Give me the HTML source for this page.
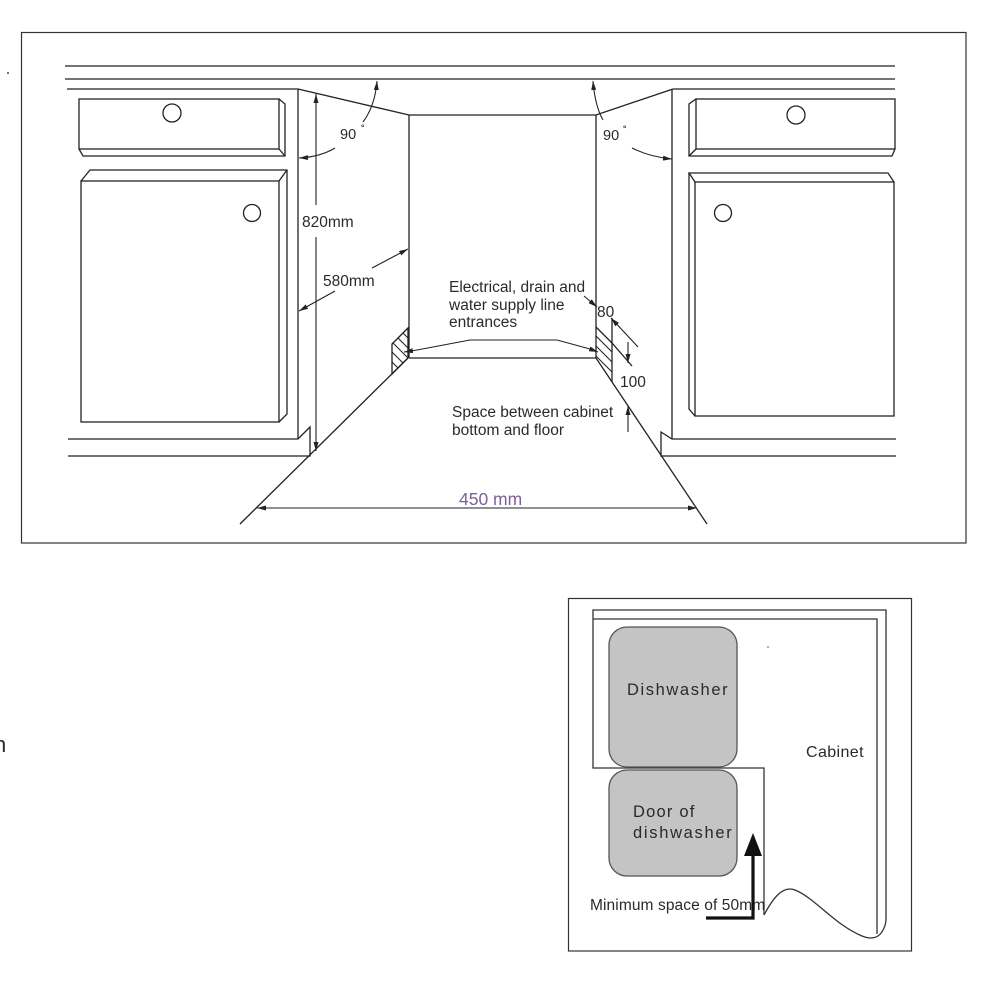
<!DOCTYPE html>
<html>
<head>
<meta charset="utf-8">
<style>
  html,body{margin:0;padding:0;background:#fff;}
  svg{display:block;}
  text{font-family:"Liberation Sans",Arial,sans-serif;fill:#2a2a2a;}
</style>
</head>
<body>
<svg width="1000" height="1000" viewBox="0 0 1000 1000" xmlns="http://www.w3.org/2000/svg">
  <defs>
    <marker id="ar" markerWidth="9" markerHeight="5" refX="9" refY="2.5" orient="auto-start-reverse" markerUnits="userSpaceOnUse">
      <path d="M0,0 L9,2.5 L0,5 z" fill="#222"/>
    </marker>
    <clipPath id="hl"><polygon points="392,344 408,328 408,358 392,374"/></clipPath>
    <clipPath id="hr"><polygon points="596,327 612,343 612,382 596,359"/></clipPath>
  </defs>
  <rect width="1000" height="1000" fill="#fff"/>

  <!-- top frame -->
  <rect x="21.5" y="32.5" width="944.5" height="510.5" fill="none" stroke="#333" stroke-width="1.2"/>
  <circle cx="8" cy="73" r="1" fill="#444"/>

  <g stroke="#222" stroke-width="1.3" fill="none">
    <!-- top lines -->
    <line x1="65" y1="66" x2="895" y2="66"/>
    <line x1="65" y1="79" x2="895" y2="79"/>
    <line x1="67" y1="89" x2="298" y2="89"/>
    <line x1="673" y1="89" x2="895" y2="89"/>

    <!-- left cabinet -->
    <line x1="298" y1="89" x2="298" y2="439"/>
    <polyline points="68,439 298,439 310,427 310,456 68,456"/>
    <!-- left drawer -->
    <rect x="79" y="99" width="200" height="50"/>
    <polyline points="279,99 285,104 285,156 83,156 79,149"/>
    <line x1="279" y1="149" x2="285" y2="156"/>
    <circle cx="172" cy="113" r="9"/>
    <!-- left door -->
    <rect x="81" y="181" width="198" height="241"/>
    <polyline points="81,181 90,170 287,170 287,414 279,422"/>
    <line x1="279" y1="181" x2="287" y2="170"/>
    <circle cx="252" cy="213" r="8.5"/>

    <!-- ceiling + opening -->
    <polyline points="298,89 409,115 596,115 673,89"/>
    <line x1="409" y1="115" x2="409" y2="358"/>
    <line x1="596" y1="115" x2="596" y2="358"/>
    <line x1="409" y1="358" x2="596" y2="358"/>
    <!-- floor slants -->
    <line x1="408" y1="358" x2="240" y2="524"/>
    <line x1="596" y1="358" x2="707" y2="524"/>

    <!-- right cabinet -->
    <line x1="672" y1="89" x2="672" y2="439"/>
    <polyline points="896,439 672,439 661,432 661,456 896,456"/>
    <!-- right drawer -->
    <rect x="696" y="99" width="199" height="50"/>
    <polyline points="696,99 689,104 689,156 892,156 895,149"/>
    <line x1="689" y1="156" x2="696" y2="149"/>
    <circle cx="796" cy="115" r="9"/>
    <!-- right door -->
    <rect x="695" y="182" width="199" height="234"/>
    <polyline points="695,182 689,173 888,173 894,182"/>
    <polyline points="689,173 689,409 695,416"/>
    <circle cx="723" cy="213" r="8.5"/>

    <!-- hatch left -->
    <polygon points="392,344 408,328 408,358 392,374"/>
    <g clip-path="url(#hl)" stroke-width="1.1">
      <line x1="380" y1="330" x2="420" y2="370"/>
      <line x1="380" y1="340" x2="420" y2="380"/>
      <line x1="380" y1="350" x2="420" y2="390"/>
      <line x1="380" y1="320" x2="420" y2="360"/>
      <line x1="380" y1="310" x2="420" y2="350"/>
    </g>
    <!-- hatch right -->
    <polyline points="596,327 612,343 632,366"/>
    <line x1="612" y1="318" x2="612" y2="382"/>
    <g clip-path="url(#hr)" stroke-width="1.1">
      <line x1="590" y1="330" x2="620" y2="360"/>
      <line x1="590" y1="340" x2="620" y2="370"/>
      <line x1="590" y1="350" x2="620" y2="380"/>
      <line x1="590" y1="360" x2="620" y2="390"/>
      <line x1="590" y1="370" x2="620" y2="400"/>
    </g>
  </g>

  <!-- dimension lines -->
  <g stroke="#222" stroke-width="1.1" fill="none">
    <!-- 820mm -->
    <line x1="316" y1="205" x2="316" y2="94" marker-end="url(#ar)"/>
    <line x1="316" y1="237" x2="316" y2="451" marker-end="url(#ar)"/>
    <!-- 580mm -->
    <line x1="372" y1="268" x2="408" y2="249" marker-end="url(#ar)"/>
    <line x1="335" y1="291" x2="299" y2="311" marker-end="url(#ar)"/>
    <!-- 90 left -->
    <path d="M363,122 Q375,106 377,81" marker-end="url(#ar)"/>
    <path d="M335,148 Q320,157 299,158" marker-end="url(#ar)"/>
    <!-- 90 right -->
    <path d="M603,120 Q595,106 593,81" marker-end="url(#ar)"/>
    <path d="M632,148 Q650,157 672,159" marker-end="url(#ar)"/>
    <!-- electrical leader -->
    <polyline points="417,350 470,340 557,340 590,349" />
    <line x1="417" y1="350" x2="404" y2="352" marker-end="url(#ar)"/>
    <line x1="590" y1="349" x2="598" y2="352" marker-end="url(#ar)"/>
    <!-- 80 -->
    <line x1="584" y1="296" x2="597" y2="307" marker-end="url(#ar)"/>
    <line x1="638" y1="347" x2="611" y2="318" marker-end="url(#ar)"/>
    <!-- 100 -->
    <line x1="628" y1="342" x2="628" y2="363" marker-end="url(#ar)"/>
    <line x1="628" y1="432" x2="628" y2="406" marker-end="url(#ar)"/>
    <!-- 450 -->
    <line x1="477" y1="508" x2="257" y2="508" marker-end="url(#ar)"/>
    <line x1="477" y1="508" x2="697" y2="508" marker-end="url(#ar)"/>
  </g>

  <!-- labels top -->
  <g font-size="15.5">
    <text x="302" y="227">820mm</text>
    <text x="323" y="286">580mm</text>
    <text x="340" y="139" font-size="14.5">90</text>
    <text x="361" y="134" font-size="12">˚</text>
    <text x="603" y="140" font-size="14.5">90</text>
    <text x="623" y="135" font-size="12">˚</text>
    <text x="449" y="292">Electrical, drain and</text>
    <text x="449" y="310">water supply line</text>
    <text x="449" y="327">entrances</text>
    <text x="597" y="317">80</text>
    <text x="620" y="387">100</text>
    <text x="452" y="417">Space between cabinet</text>
    <text x="452" y="435">bottom and floor</text>
    <text x="459" y="505" font-size="17.5" style="fill:#7f5f96">450 mm</text>
  </g>

  <!-- partial left letter -->
  <text x="-6" y="752" font-size="22">n</text>

  <!-- bottom diagram -->
  <rect x="568.5" y="598.5" width="343" height="352.5" fill="none" stroke="#333" stroke-width="1.2"/>
  <g stroke="#333" stroke-width="1.3" fill="none">
    <polyline points="886,918 886,610 593,610 593,768 764,768 764,915"/>
    <polyline points="877,934 877,619 593,619"/>
    <path d="M764,915 C772,900 782,885 795,890 C815,898 835,925 862,936 C872,940 880,938 884,928 C886,924 886,920 886,918"/>
  </g>
  <rect x="609" y="627" width="128" height="140" rx="18" ry="18" fill="#c4c4c4" stroke="#555" stroke-width="1.3"/>
  <rect x="609" y="770" width="128" height="106" rx="18" ry="18" fill="#c4c4c4" stroke="#555" stroke-width="1.3"/>
  <circle cx="768" cy="647" r="0.7" fill="#444"/>
  <text x="627" y="695" font-size="16.5" letter-spacing="1.6">Dishwasher</text>
  <text x="633" y="817" font-size="16.5" letter-spacing="1.2">Door of</text>
  <text x="633" y="838" font-size="16.5" letter-spacing="1.7">dishwasher</text>
  <text x="806" y="757" font-size="16" letter-spacing="0.4">Cabinet</text>
  <text x="590" y="910" font-size="15.5" letter-spacing="0.1">Minimum space of 50mm</text>
  <!-- thick arrow -->
  <polyline points="706,918 753,918 753,852" fill="none" stroke="#111" stroke-width="3.2"/>
  <polygon points="744,856 762,856 753,833" fill="#111"/>
</svg>
</body>
</html>
